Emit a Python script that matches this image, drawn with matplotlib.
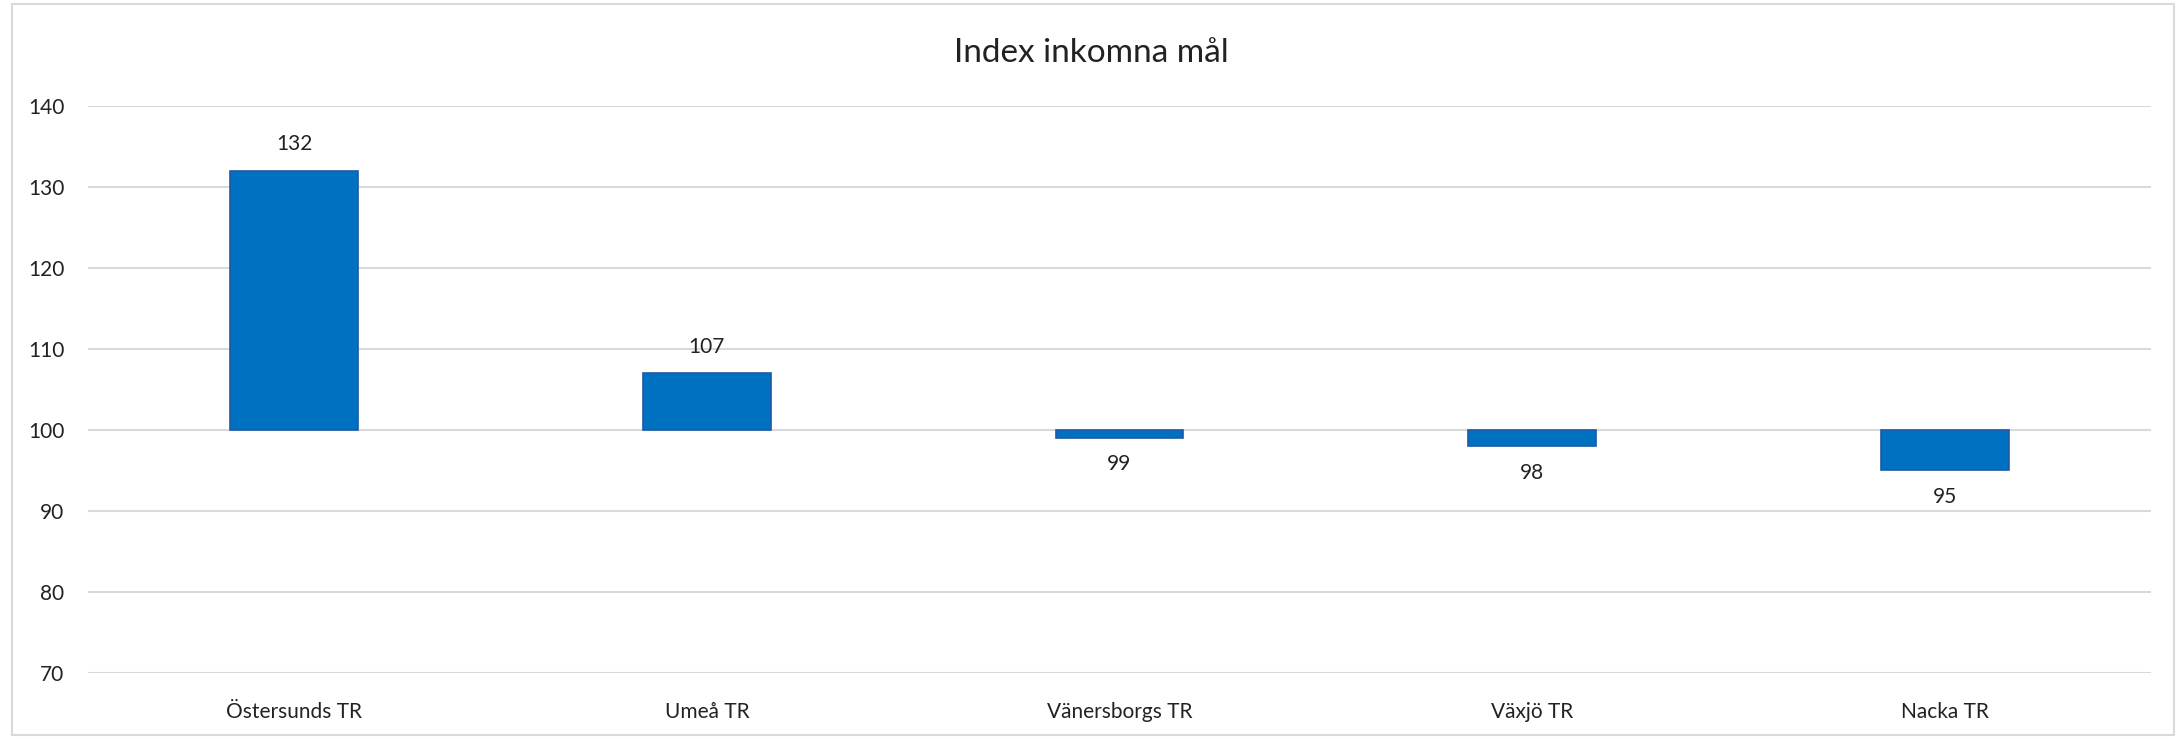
import matplotlib.pyplot as plt
from matplotlib.patches import Rectangle

courts = ['Östersunds TR', 'Umeå TR', 'Vänersborgs TR', 'Växjö TR', 'Nacka TR']
index_values = [132, 107, 99, 98, 95]
base = 100
y_ticks = [70, 80, 90, 100, 110, 120, 130, 140]

plt.rcParams['font.family'] = ['Lato', 'DejaVu Sans']

fig = plt.figure(figsize=(21.82, 7.39), dpi=100)
ax = fig.add_axes([0.0403, 0.0893, 0.9455, 0.7673])

x = range(len(courts))
heights = [v - base for v in index_values]
ax.bar(x, heights, bottom=base, width=0.31, color='#0070C0',
       edgecolor='#1F5AA6', linewidth=1.2, zorder=3)

for i, v in enumerate(index_values):
    off = 19 if v >= base else -19
    ax.annotate(str(v), (i, v), xytext=(0, off), textcoords='offset points',
                ha='center', va='center', fontsize=15, color='#222222')

ax.set_xlim(-0.5, len(courts) - 0.5)
ax.set_ylim(70, 140)
ax.set_yticks(y_ticks)
ax.set_xticks(list(x))
ax.set_xticklabels(courts)
ax.grid(axis='y', color='#D9D9D9', linewidth=1.5, zorder=0)
for s in ax.spines.values():
    s.set_visible(False)
ax.tick_params(axis='both', length=0, labelsize=15, colors='#222222')
ax.tick_params(axis='x', pad=21)
ax.tick_params(axis='y', pad=17)

fig.text(0.5, 1 - 53 / 739, 'Index inkomna mål', ha='center', va='center',
         fontsize=24, color='#222222')

fig.patches.append(Rectangle((12 / 2182, 4 / 739), 2162 / 2182, 731 / 739,
                             transform=fig.transFigure, fill=False,
                             edgecolor='#D9D9D9', linewidth=1.5))

fig.savefig('out.png', dpi=100)
